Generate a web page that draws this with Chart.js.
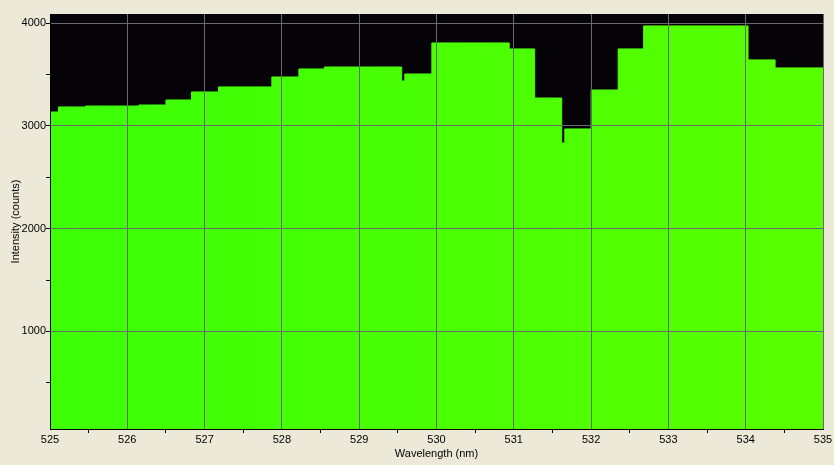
<!DOCTYPE html>
<html>
<head>
<meta charset="utf-8">
<script src="https://cdn.jsdelivr.net/npm/chart.js@4.4.1/dist/chart.umd.min.js"></script>
<style>
    html, body { margin: 0; padding: 0; background: #ece9d8; }
    #wrap { width: 834px; height: 465px; }
</style>
</head>
<body>
<div id="wrap"><canvas id="spectrum" width="834" height="465"></canvas></div>
<script>
// wavelength (nm) where each step of the spectrum starts, and its intensity
const wavelengths = [525.0, 525.11, 525.46, 526.15, 526.50, 526.83, 527.18, 527.87, 528.22, 528.55,
    529.55, 529.59, 529.94, 530.94, 531.27, 531.62, 531.66, 532.0, 532.35, 532.68, 534.03, 534.38, 535.0];
const intensity = [3136, 3185, 3194, 3204, 3253, 3331, 3380, 3477, 3555, 3574,
    3438, 3506, 3808, 3750, 3272, 2834, 2971, 3350, 3750, 3974, 3643, 3565, 3565];

const xTicks = [525, 526, 527, 528, 529, 530, 531, 532, 533, 534, 535];
const yTicks = [1000, 2000, 3000, 4000];

const xMin = 525, xMax = 535;
const yMin = 50, yMax = 4090;

const labelFont = { family: 'Liberation Sans, Arial, sans-serif', size: 11 };

// black plot background
const plotBackground = {
    id: 'plotBackground',
    beforeDraw(chart) {
        const { ctx, chartArea } = chart;
        ctx.save();
        ctx.fillStyle = '#050308';
        ctx.fillRect(chartArea.left, chartArea.top, chartArea.right - chartArea.left, chartArea.bottom - chartArea.top);
        ctx.restore();
    }
};

function greenFill(context) {
    const chart = context.chart;
    const area = chart.chartArea;
    if (!area) return '#48ff00';
    const g = chart.ctx.createLinearGradient(area.left, 0, area.right, 0);
    g.addColorStop(0, '#3cff08');
    g.addColorStop(1, '#58ff00');
    return g;
}

const points = wavelengths.map((w, i) => ({ x: w, y: intensity[i] }));

new Chart(document.getElementById('spectrum').getContext('2d'), {
    type: 'line',
    data: {
        datasets: [{
            data: points,
            stepped: 'before',
            fill: 'start',
            backgroundColor: greenFill,
            borderColor: greenFill,
            borderWidth: 1,
            pointRadius: 0
        }]
    },
    options: {
        responsive: false,
        animation: false,
        layout: { padding: { top: 14, right: 11, left: 0, bottom: 0 } },
        plugins: {
            legend: { display: false },
            tooltip: { enabled: false }
        },
        scales: {
            x: {
                type: 'linear',
                z: 1,
                min: xMin,
                max: xMax,
                afterFit(scale) { scale.height = 36; },
                afterBuildTicks(scale) {
                    const t = [];
                    for (let i = 0; i < xTicks.length; i++) {
                        t.push({ value: xTicks[i] });
                        if (i < xTicks.length - 1) t.push({ value: xTicks[i] + 0.5 });
                    }
                    scale.ticks = t;
                },
                ticks: {
                    autoSkip: false,
                    maxRotation: 0,
                    padding: 0,
                    color: '#000',
                    font: labelFont,
                    callback: (v) => xTicks.includes(v) ? String(v) : ''
                },
                grid: {
                    z: 1,
                    color: (c) => c.tick && xTicks.includes(c.tick.value) ? '#6c6870' : 'rgba(0,0,0,0)',
                    tickColor: (c) => c.tick && xTicks.includes(c.tick.value) ? 'rgba(0,0,0,0)' : '#000',
                    tickLength: 4,
                    lineWidth: 1
                },
                border: { display: true, color: '#000', width: 1, z: 2 },
                title: {
                    display: true,
                    text: 'Wavelength (nm)',
                    color: '#000',
                    font: labelFont,
                    padding: { top: 0, bottom: 4 }
                }
            },
            y: {
                type: 'linear',
                z: 1,
                min: yMin,
                max: yMax,
                afterFit(scale) { scale.width = 50; },
                afterBuildTicks(scale) {
                    const t = [];
                    for (let v = 500; v < yMax; v += 500) t.push({ value: v });
                    scale.ticks = t;
                },
                ticks: {
                    padding: 0,
                    color: '#000',
                    font: labelFont,
                    callback: (v) => yTicks.includes(v) ? String(v) : ''
                },
                grid: {
                    z: 1,
                    color: (c) => c.tick && yTicks.includes(c.tick.value) ? '#6c6870' : 'rgba(0,0,0,0)',
                    tickColor: '#000',
                    tickLength: 4,
                    lineWidth: 1
                },
                border: { display: true, color: '#000', width: 1, z: 2 },
                title: {
                    display: true,
                    text: 'Intensity (counts)',
                    color: '#000',
                    font: labelFont,
                    padding: { top: 9, bottom: 0 }
                }
            }
        }
    },
    plugins: [plotBackground]
});
</script>
</body>
</html>
